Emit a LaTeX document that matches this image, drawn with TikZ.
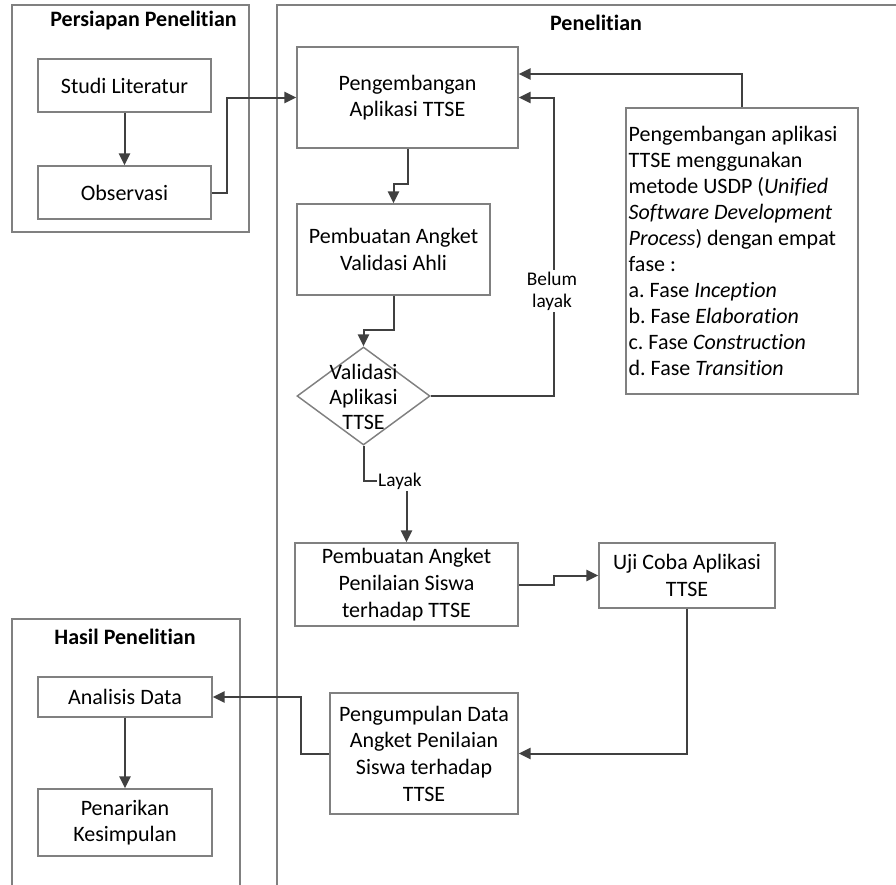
\documentclass[tikz,border=0pt]{standalone}
\usepackage{fontspec}
\setmainfont{Carlito}[Ligatures=NoCommon]
\usetikzlibrary{arrows.meta,shapes.geometric,calc}
\definecolor{boxgray}{HTML}{808080}
\definecolor{linegray}{HTML}{404040}
\definecolor{framegray}{HTML}{808080}
\frenchspacing
\begin{document}
\begin{tikzpicture}[x=0.75pt,y=-0.75pt,
  font=\fontsize{16.5}{20}\selectfont,
  box/.style={draw=boxgray, line width=1.1pt, align=center, inner sep=1pt},
  sz/.style 2 args={minimum width=#1*0.75pt, minimum height=#2*0.75pt},
  arr/.style={draw=linegray, line width=1.5pt, -{Triangle[length=9pt,width=8.5pt]}},
  frame/.style={draw=framegray, line width=1.1pt},
  title/.style={font=\fontsize{16.5}{20}\selectfont\bfseries},
  lbl/.style={fill=white, inner sep=1pt, align=center, font=\fontsize{14.5}{16.5}\selectfont}
]
\useasboundingbox (0,0) rectangle (896,885);

% frames
\draw[frame] (12,5) rectangle (249,232);
\draw[frame] (277,885) -- (277,5) -- (896,5);
\draw[frame] (12,885) -- (12,619) -- (240,619) -- (240,885);
\node[title] (t1) at (143.5,21) {Persiapan Penelitian};
\node[title] (t2) at (596,23) {Penelitian};
\node[title] (t3) at (125,637) {Hasil Penelitian};

% nodes
\node[box, sz={173}{53}] (studi) at (124.5,85.5) {Studi Literatur};
\node[box, sz={173}{53}] (obs) at (124.5,192.5) {Observasi};
\node[box, sz={221}{101}] (peng) at (407.5,97.5) {Pengembangan\\Aplikasi TTSE};
\node[box, sz={193}{91}] (valid) at (393.5,249.5) {Pembuatan Angket\\Validasi Ahli};
\node[diamond, draw=boxgray, line width=1.1pt, inner sep=0pt, sz={133}{98}] (dia) at (363.5,396) {};
\node[align=center, font=\fontsize{16.5}{19}\selectfont] (diatext) at (363.5,397) {Validasi\\Aplikasi\\TTSE};
\node[box, sz={223}{83}] (paps) at (406.5,584.5) {Pembuatan Angket\\Penilaian Siswa\\terhadap TTSE};
\node[box, sz={176}{65}] (uji) at (687,575.5) {Uji Coba Aplikasi\\TTSE};
\node[box, sz={188}{121}] (pengum) at (424,753.5) {Pengumpulan Data\\Angket Penilaian\\Siswa terhadap\\TTSE};
\node[box, sz={174}{40}] (analisis) at (125,697) {Analisis Data};
\node[box, sz={174}{67}] (penarikan) at (125,822.5) {Penarikan\\Kesimpulan};
\node[draw=boxgray, line width=1.1pt, sz={230}{286}, text width=170pt, inner xsep=2pt, align=flush left,
      font=\fontsize{16.5}{19.5}\selectfont] (tb) at (742,251)
 {Pengembangan aplikasi\\
  TTSE menggunakan\\
  metode USDP (\textit{Unified}\\
  \textit{Software Development}\\
  \textit{Process}) dengan empat\\
  fase :\\
  a. Fase \textit{Inception}\\
  b. Fase \textit{Elaboration}\\
  c. Fase \textit{Construction}\\
  d. Fase \textit{Transition}};

% connectors
\draw[arr] (studi.south) -- (obs.north);
\draw[arr] (obs.east) -- ++(15,0) |- (peng.west);
\draw[arr] (tb.north) |- ($(peng.east)+(0,-23.5)$);
\draw[arr] (dia.east) -| ($(peng.east)+(35,0)$) -- (peng.east);
\node[lbl] (belum) at (552,291) {Belum\\layak};
\draw[arr] (peng.south) -- ++(0,35) -| (valid.north);
\draw[arr] (valid.south) -- ++(0,34) -| (dia.north);
\draw[arr] (dia.south) -- ++(0,35) -| (paps.north);
\node[lbl] (layak) at (400,481) {Layak};
\draw[arr] (paps.east) -- ++(35,0) |- (uji.west);
\draw[arr] (uji.south) |- (pengum.east);
\draw[arr] (pengum.west) -- ++(-28,0) |- (analisis.east);
\draw[arr] (analisis.south) -- (penarikan.north);
\end{tikzpicture}
\end{document}
